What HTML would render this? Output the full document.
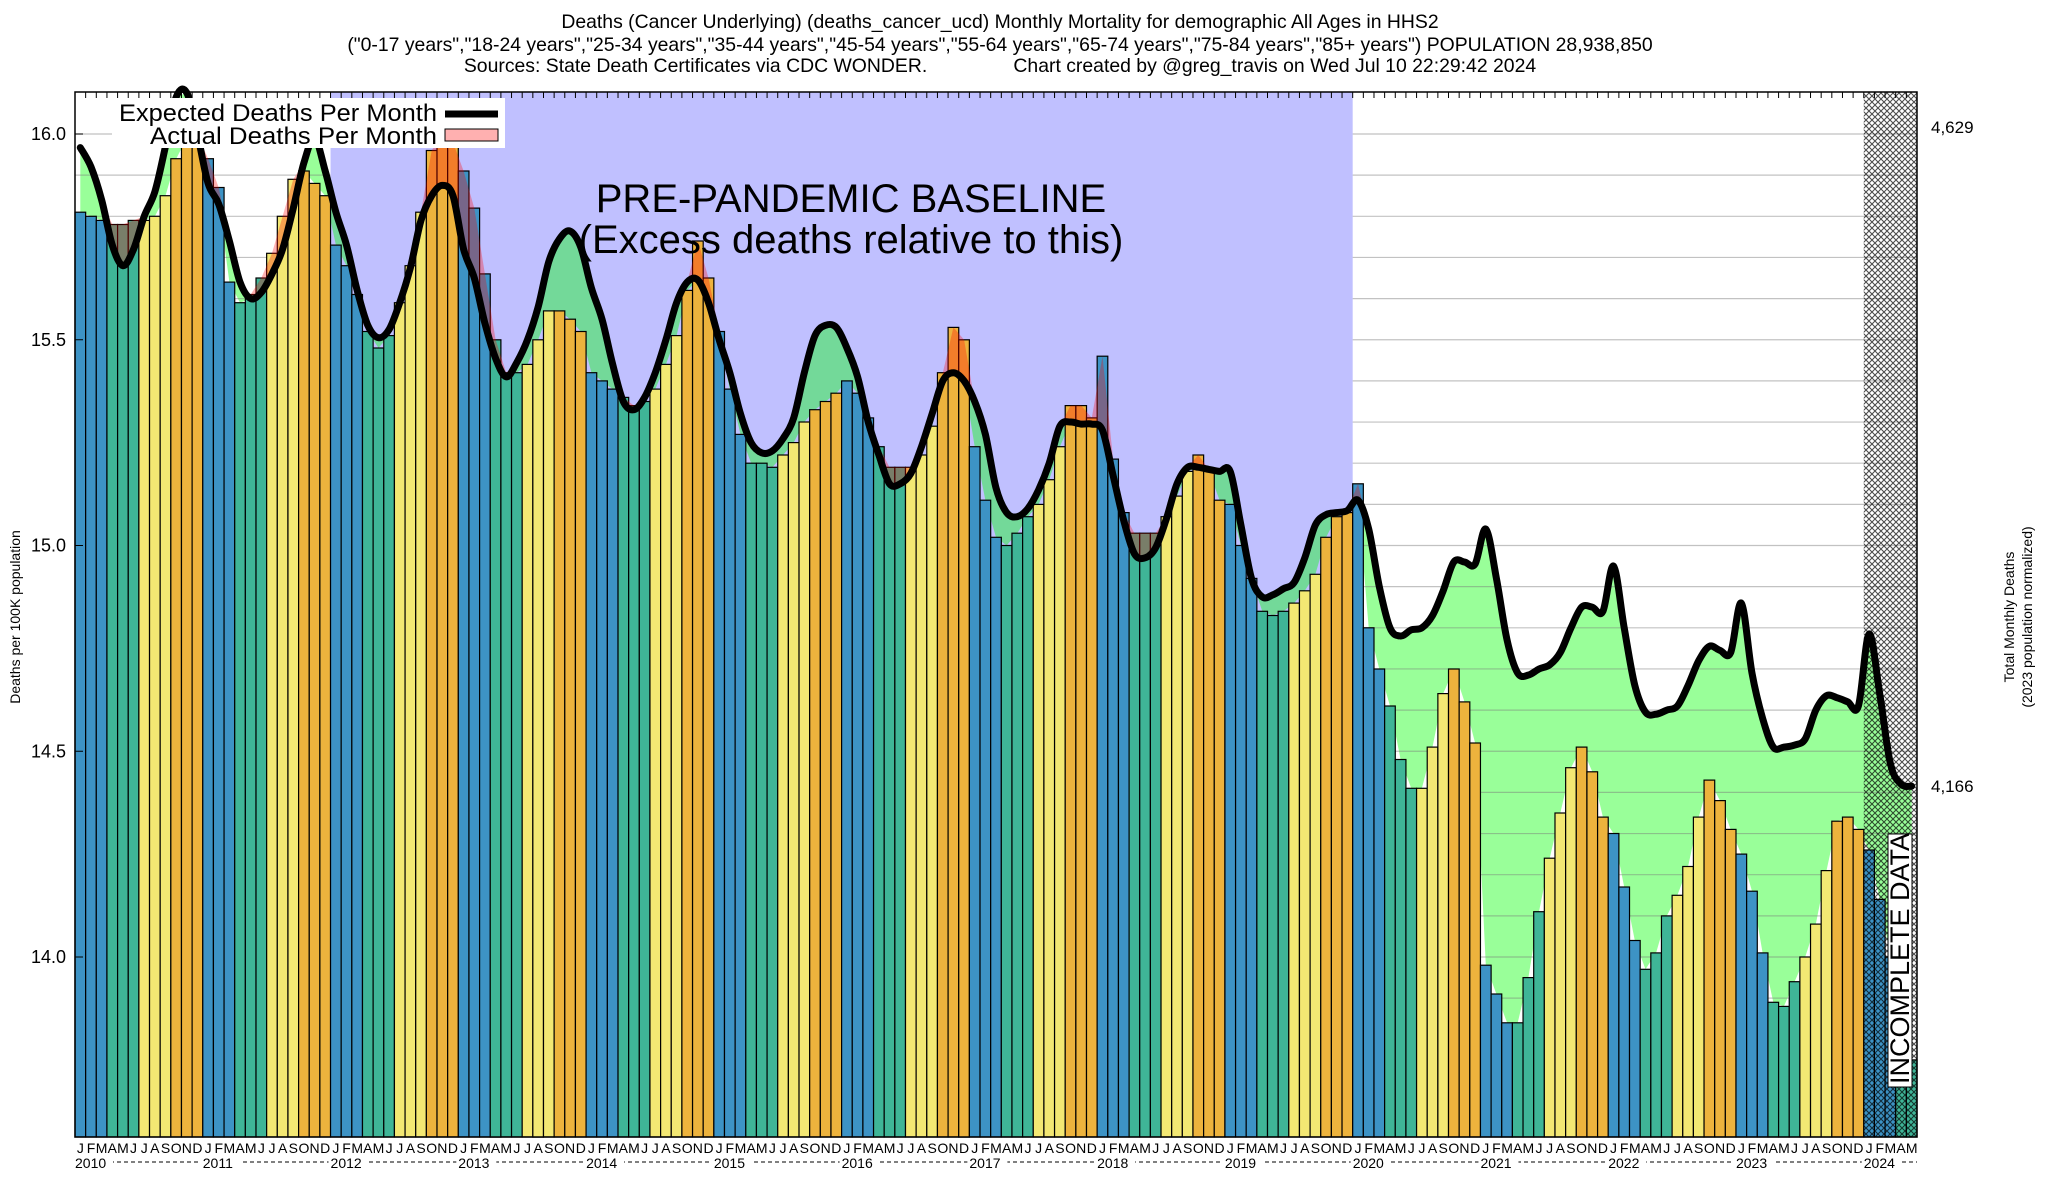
<!DOCTYPE html>
<html><head><meta charset="utf-8"><style>
html,body{margin:0;padding:0;background:#fff;}
svg{display:block;font-family:"Liberation Sans",sans-serif;}
</style></head><body>
<svg id="chart" width="2048" height="1200" viewBox="0 0 2048 1200" xmlns="http://www.w3.org/2000/svg">
<defs>
<pattern id="hatch" width="6" height="6" patternUnits="userSpaceOnUse">
<path d="M0,0 L6,6 M6,0 L0,6" stroke="#000" stroke-width="1.1" fill="none"/>
</pattern>
</defs>
<g font-size="19.4" text-anchor="middle" fill="#000">
<text x="1000" y="28">Deaths (Cancer Underlying) (deaths_cancer_ucd) Monthly Mortality for demographic All Ages in HHS2</text>
<text x="1000" y="51">("0-17 years","18-24 years","25-34 years","35-44 years","45-54 years","55-64 years","65-74 years","75-84 years","85+ years") POPULATION 28,938,850</text>
<text x="1000" y="72" style="white-space:pre" xml:space="preserve">Sources: State Death Certificates via CDC WONDER.                Chart created by @greg_travis on Wed Jul 10 22:29:42 2024</text>
</g>
<rect x="75" y="92" width="1842" height="1045" fill="#fff"/>
<g id="layer-bg"></g>
<g id="layer-green"></g>
<g id="layer-grid"></g>
<g id="layer-bars"></g>
<g id="layer-red"></g>
<g id="layer-hatch"></g>
<g id="layer-line"></g>
<rect x="75" y="92" width="1842" height="1045" fill="none" stroke="#000" stroke-width="1.5"/>
<g id="layer-axes" font-size="16"></g>
<g font-size="40" text-anchor="middle">
<text x="851" y="212">PRE-PANDEMIC BASELINE</text>
<text x="851" y="253">(Excess deaths relative to this)</text>
</g>
<g>
<rect x="112" y="98" width="393" height="50" fill="#fff"/>
<text x="437" y="121" font-size="24" text-anchor="end" textLength="318" lengthAdjust="spacingAndGlyphs">Expected Deaths Per Month</text>
<line x1="445" y1="114" x2="498" y2="114" stroke="#000" stroke-width="7"/>
<text x="437" y="144" font-size="24" text-anchor="end" textLength="287" lengthAdjust="spacingAndGlyphs">Actual Deaths Per Month</text>
<rect x="445" y="129" width="53" height="12" fill="#ffb0b0" stroke="#000" stroke-width="1"/>
</g>
<g>
<rect x="1888" y="834" width="24" height="253" fill="#fff" stroke="#000" stroke-width="1"/>
<text transform="translate(1909,1084) rotate(-90)" font-size="27">INCOMPLETE DATA</text>
</g>
<text transform="translate(20,617) rotate(-90)" font-size="14" text-anchor="middle">Deaths per 100K population</text>
<text transform="translate(2014,617) rotate(-90)" font-size="14" text-anchor="middle">Total Monthly Deaths</text>
<text transform="translate(2032,617) rotate(-90)" font-size="14" text-anchor="middle">(2023 population normalized)</text>
<text x="1931" y="133" font-size="17">4,629</text>
<text x="1931" y="792" font-size="17">4,166</text>
</svg>
<script>
const monthLetters = ["J","F","M","A","M","J","J","A","S","O","N","D"];
const years = [2010,2011,2012,2013,2014,2015,2016,2017,2018,2019,2020,2021,2022,2023,2024];
const yTicks = [16.0,15.5,15.0,14.5,14.0];
const yTickLabels = ["16.0","15.5","15.0","14.5","14.0"];
const actual = [
15.81,15.80,15.79,15.78,15.78,15.79,15.79,15.80,15.85,15.94,15.99,15.99,
15.94,15.87,15.64,15.59,15.61,15.65,15.71,15.80,15.89,15.91,15.88,15.85,
15.73,15.68,15.61,15.52,15.48,15.51,15.59,15.68,15.81,15.96,16.00,15.98,
15.91,15.82,15.66,15.50,15.42,15.42,15.44,15.50,15.57,15.57,15.55,15.52,
15.42,15.40,15.38,15.36,15.34,15.35,15.38,15.44,15.51,15.62,15.74,15.65,
15.52,15.38,15.27,15.20,15.20,15.19,15.22,15.25,15.30,15.33,15.35,15.37,
15.40,15.37,15.31,15.24,15.19,15.19,15.19,15.22,15.29,15.42,15.53,15.50,
15.24,15.11,15.02,15.00,15.03,15.07,15.10,15.16,15.24,15.34,15.34,15.31,
15.46,15.21,15.08,15.03,15.03,15.03,15.07,15.12,15.18,15.22,15.18,15.11,
15.10,15.00,14.92,14.84,14.83,14.84,14.86,14.89,14.93,15.02,15.07,15.08,
15.15,14.80,14.70,14.61,14.48,14.41,14.41,14.51,14.64,14.70,14.62,14.52,
13.98,13.91,13.84,13.84,13.95,14.11,14.24,14.35,14.46,14.51,14.45,14.34,
14.30,14.17,14.04,13.97,14.01,14.10,14.15,14.22,14.34,14.43,14.38,14.31,
14.25,14.16,14.01,13.89,13.88,13.94,14.00,14.08,14.21,14.33,14.34,14.31,
14.26,14.14,14.00,13.90,13.75];
const expected = [
15.967,15.92,15.84,15.73,15.68,15.72,15.80,15.86,15.97,16.09,16.10,16.00,
15.88,15.83,15.74,15.64,15.60,15.615,15.66,15.72,15.82,15.93,15.99,15.91,
15.81,15.73,15.62,15.535,15.505,15.525,15.59,15.675,15.79,15.85,15.875,15.85,
15.72,15.65,15.54,15.455,15.41,15.445,15.50,15.58,15.69,15.745,15.764,15.725,
15.626,15.55,15.44,15.35,15.33,15.36,15.42,15.50,15.59,15.64,15.645,15.59,
15.50,15.42,15.32,15.25,15.225,15.23,15.26,15.31,15.42,15.51,15.535,15.53,
15.48,15.41,15.30,15.22,15.15,15.15,15.175,15.24,15.32,15.40,15.42,15.40,
15.35,15.27,15.14,15.08,15.07,15.09,15.135,15.20,15.29,15.30,15.295,15.295,
15.28,15.17,15.06,14.98,14.97,14.995,15.065,15.15,15.19,15.19,15.185,15.18,
15.18,15.05,14.92,14.875,14.88,14.895,14.91,14.97,15.05,15.075,15.08,15.085,
15.11,15.04,14.90,14.80,14.78,14.795,14.80,14.83,14.89,14.96,14.96,14.955,
15.04,14.92,14.77,14.69,14.685,14.70,14.71,14.74,14.80,14.85,14.85,14.84,
14.95,14.80,14.66,14.595,14.59,14.60,14.61,14.66,14.72,14.755,14.745,14.74,
14.86,14.69,14.58,14.51,14.51,14.515,14.53,14.60,14.635,14.63,14.62,14.61,
14.785,14.64,14.47,14.42,14.415];
const baselineStartIndex = 24;
const baselineEndIndex = 120;
const incompleteStartIndex = 168;

const NS = "http://www.w3.org/2000/svg";
const L = 75, R = 1917, T = 92, B = 1137;
const N = actual.length;
const W = (R - L) / N;
function xs(i){ return L + i * W; }
function xc(i){ return L + (i + 0.5) * W; }
function ys(v){ return 134 + (16 - v) * 411.5; }
function mk(tag, attrs, parent){
  const e = document.createElementNS(NS, tag);
  for (const k in attrs) e.setAttribute(k, attrs[k]);
  parent.appendChild(e);
  return e;
}
const colors = ["#3d93c5","#3fb597","#f3e873","#edb33d"];

const bg = document.getElementById("layer-bg");
const lav = mk("rect", {x: xs(baselineStartIndex), y: T, width: xs(baselineEndIndex) - xs(baselineStartIndex), height: B - T, fill: "#c0c0ff"}, bg);



function pts(arr){ return arr.map((v,i)=>xc(i).toFixed(1)+","+ys(v).toFixed(1)); }
const lowArr = expected.map((e,i)=>Math.min(e, actual[i]));
const highArr = expected.map((e,i)=>Math.max(e, actual[i]));
const gp = pts(expected).concat(pts(lowArr).reverse()).join(" ");
const green = mk("polygon", {points: gp, fill: "rgba(0,255,0,0.4)"}, document.getElementById("layer-green"));



const grid = document.getElementById("layer-grid");
for (let k = 136; k <= 160; k++) {
  const v = k / 10;
  const y = ys(v);
  if (y < T || y > B) continue;
  const segs = [[L, xs(baselineStartIndex)], [xs(baselineEndIndex), R]];
  segs.forEach(s => {
    const g = mk("line", {x1: s[0], x2: s[1], y1: y, y2: y, stroke: "rgba(120,120,120,0.45)", "stroke-width": 1.2}, grid);
    
    
  });
}

const bars = document.getElementById("layer-bars");
actual.forEach((v,i)=>{
  const y = ys(v);
  const b = mk("rect", {x: xs(i).toFixed(2), y: y.toFixed(1), width: W.toFixed(2), height: (B - y).toFixed(1), fill: colors[Math.floor((i % 12) / 3)], stroke: "#000", "stroke-width": 1.2}, bars);
  
  
});

const rp = pts(highArr).concat(pts(expected).reverse()).join(" ");
const red = mk("polygon", {points: rp, fill: "rgba(255,0,0,0.3)"}, document.getElementById("layer-red"));



const hatch = mk("rect", {x: xs(incompleteStartIndex), y: T, width: R - xs(incompleteStartIndex), height: B - T, fill: "url(#hatch)", opacity: 0.7}, document.getElementById("layer-hatch"));



const P = expected.map((v,i)=>[xc(i), ys(v)]);
let d = "M" + P[0][0].toFixed(1) + "," + P[0][1].toFixed(1);
for (let i = 0; i < P.length - 1; i++) {
  const p0 = P[Math.max(0,i-1)], p1 = P[i], p2 = P[i+1], p3 = P[Math.min(P.length-1,i+2)];
  const c1 = [p1[0] + (p2[0]-p0[0])/6, p1[1] + (p2[1]-p0[1])/6];
  const c2 = [p2[0] - (p3[0]-p1[0])/6, p2[1] - (p3[1]-p1[1])/6];
  d += " C" + c1[0].toFixed(1)+","+c1[1].toFixed(1)+" "+c2[0].toFixed(1)+","+c2[1].toFixed(1)+" "+p2[0].toFixed(1)+","+p2[1].toFixed(1);
}
const line = mk("path", {d: d, fill: "none", stroke: "#000", "stroke-width": 7, "stroke-linejoin": "round", "stroke-linecap": "round"}, document.getElementById("layer-line"));



const ax = document.getElementById("layer-axes");
yTicks.forEach((v,k)=>{
  const y = ys(v);
  const t = mk("text", {x: 66, y: y + 6, "text-anchor": "end", "font-size": 18}, ax);
  t.textContent = yTickLabels[k];
  
  
  const tk = mk("line", {x1: L, x2: L + 8, y1: y, y2: y, stroke: "#000", "stroke-width": 1}, ax);
  
  
});
for (let i = 0; i < N; i++) {
  const t = mk("text", {x: xc(i), y: 1153, "text-anchor": "middle", "font-size": 14}, ax);
  t.textContent = monthLetters[i % 12];
  
  
  const tk = mk("line", {x1: xs(i), x2: xs(i), y1: T, y2: T + 6, stroke: "#000", "stroke-width": 1}, ax);
  
  
}
const dash = mk("line", {x1: L, x2: R, y1: 1162, y2: 1162, stroke: "#000", "stroke-width": 1, "stroke-dasharray": "4,3"}, ax);


years.forEach((yr,k)=>{
  const x0 = xs(k * 12);
  const r = mk("rect", {x: x0 - 2, y: 1153, width: 40, height: 17, fill: "#fff"}, ax);
  
  
  const t = mk("text", {x: x0, y: 1168, "font-size": 14}, ax);
  t.textContent = String(yr);
  
  
});
</script>
</body></html>
